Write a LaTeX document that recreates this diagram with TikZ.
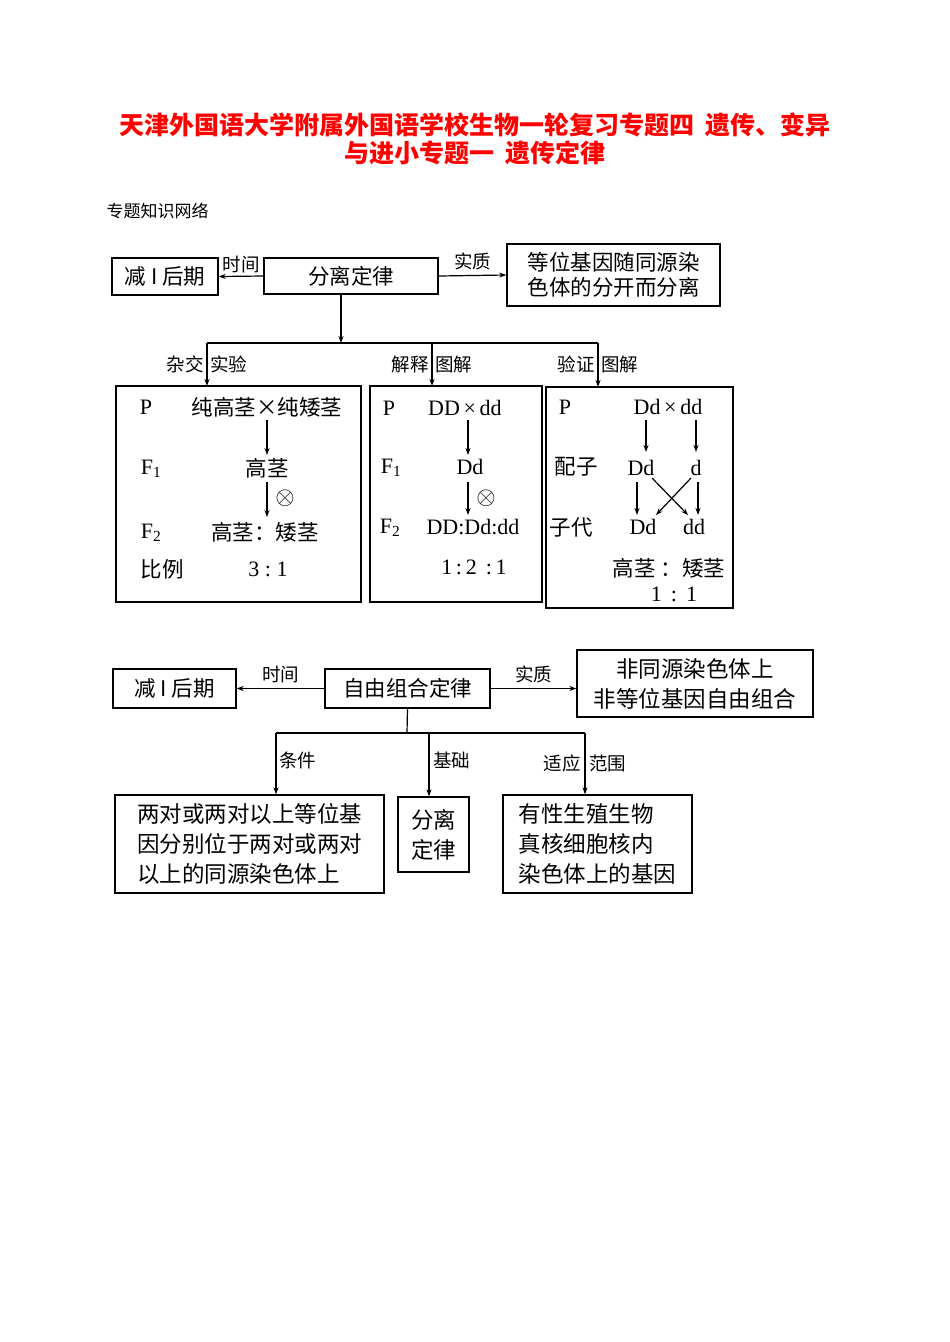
\documentclass[tikz,border=0pt]{standalone}
\usepackage{fontspec}
\usetikzlibrary{arrows.meta}
\setmainfont{Liberation Serif}
\newfontfamily\cjk{Noto Sans CJK SC}
\begin{document}
\begin{tikzpicture}[x=1pt,y=-1pt,
 bx/.style={draw,line width=1.3pt,inner sep=0pt},
 ar/.style={-{Stealth[length=7pt,width=5pt]},line width=1.2pt},
 ln/.style={line width=1.2pt},
 t/.style={font=\fontsize{21.5}{25}\selectfont\cjk,inner sep=0pt},
 tl/.style={font=\fontsize{22}{24}\selectfont,inner sep=0pt},
 lab/.style={font=\fontsize{18.5}{20}\selectfont\cjk,inner sep=0pt},
 ox/.style={font=\fontsize{26}{26}\selectfont,inner sep=0pt},
 b/.style={font=\fontsize{22.5}{30}\selectfont\cjk,inner sep=0pt,align=left}]
\useasboundingbox (0,0) rectangle (950,1342);
\node[font=\fontsize{25}{28}\selectfont\cjk\bfseries,text=red,align=center] (title) at (475,139) {天津外国语大学附属外国语学校生物一轮复习专题四\ \ 遗传、变异\\与进小专题一\ \ 遗传定律};
\node[font=\fontsize{17}{18}\selectfont\cjk,anchor=west] (sub) at (103,211) {专题知识网络};
% top
\node[bx,minimum width=106,minimum height=37,t] (a1) at (165,276.5) {减 I 后期};
\node[bx,minimum width=174,minimum height=36,t] (a2) at (351,276) {分离定律};
\node[bx,minimum width=213,minimum height=62,t,align=center] (a3) at (613.5,275) {等位基因随同源染\\色体的分开而分离};
\draw[ar] (a2.west) -- (a1.east) node[lab,midway,above=3pt] {时间};
\draw[ar] (a2.east) -- (a3.west) node[lab,midway,above=5pt] {实质};
\coordinate (h) at (341,343);
\draw[ar] (a2.south-|h) -- (h);
\coordinate (hl) at (207,343); \coordinate (hr) at (598,343); \coordinate (hm) at (432,343);
\draw[ln] (hl) -- (hr);
\draw[line width=1.3pt] (116,386) rectangle (361,602);
\draw[line width=1.3pt] (370,386) rectangle (542,602);
\draw[line width=1.3pt] (546,387) rectangle (733,608);
\coordinate (b1) at (207,386); \coordinate (b2) at (432,386); \coordinate (b3) at (598,387);
\draw[ar] (hl) -- (b1); \draw[ar] (hm) -- (b2); \draw[ar] (hr) -- (b3);
\node[lab,anchor=east] at (204,364) {杂交}; \node[lab,anchor=west] at (210,364) {实验};
\node[lab,anchor=east] at (429,364) {解释}; \node[lab,anchor=west] at (435,364) {图解};
\node[lab,anchor=east] at (595,364) {验证}; \node[lab,anchor=west] at (601,364) {图解};
% box1
\node[tl] at (146,407) {P};
\node[t] (p1) at (267,407) {纯高茎×纯矮茎};
\node[tl] at (151,469) {F\textsubscript{1}};
\node[t] (f1) at (267,468) {高茎};
\node[tl] at (151,533) {F\textsubscript{2}};
\node[t] (f2) at (265,532) {高茎：矮茎};
\node[t] at (162,569) {比例};
\node[tl] at (268,569) {3\ :\ 1};
\draw[ar] (267,420) -- (267,455);
\draw[ar] (267,482) -- (267,517);
\node[ox] at (285,498) {$\otimes$};
% box2
\node[tl] at (389,408) {P};
\node[tl] (p2) at (465,408) {DD\,×\,dd};
\node[tl] at (391,468) {F\textsubscript{1}};
\node[tl] (g1) at (470,467) {Dd};
\node[tl] at (390,528) {F\textsubscript{2}};
\node[tl] (g2) at (473,527) {DD:Dd:dd};
\node[tl] at (474,567) {1\,:\,2\,\ :\,1};
\draw[ar] (468,420) -- (468,455);
\draw[ar] (468,482) -- (468,515);
\node[ox] at (486,498) {$\otimes$};
% box3
\node[tl] at (565,407) {P};
\node[tl] (p3) at (668,407) {Dd\,×\,dd};
\node[t] at (576,467) {配子};
\node[tl] (m1) at (641,468) {Dd};
\node[tl] (m2) at (696,468) {d};
\node[t] at (571,527) {子代};
\node[tl] (c1) at (643,527) {Dd};
\node[tl] (c2) at (694,527) {dd};
\draw[ar] (646,420) -- (646,452);
\draw[ar] (696,420) -- (696,452);
\draw[ar] (637,482) -- (637,515);
\draw[ar] (698,482) -- (698,515);
\draw[ar] (652,478) -- (688,515);
\draw[ar] (691,478) -- (656,515);
\node[t] at (669,568) {高茎 ：矮茎};
\node[tl] at (674,594) {1\ \,:\ \,1};
% bottom
\node[bx,minimum width=123,minimum height=39,t] (d1) at (174.5,688.5) {减 I 后期};
\node[bx,minimum width=165,minimum height=39,t] (d2) at (407.5,688.5) {自由组合定律};
\node[bx,minimum width=236,minimum height=67,t,align=center,font=\fontsize{22.5}{30}\selectfont\cjk] (d3) at (695,683.5) {非同源染色体上\\非等位基因自由组合};
\draw[ar] (d2.west) -- (d1.east) node[lab,midway,above=5pt] {时间};
\draw[ar] (d2.east) -- (d3.west|-d2.east) node[lab,midway,above=5pt] {实质};
\coordinate (k) at (407,733); \coordinate (kl) at (276,733); \coordinate (km) at (429,733); \coordinate (kr) at (585,733);
\draw[ln] (d2.south) -- (k);
\draw[ln] (kl) -- (kr);
\node[bx,minimum width=269,minimum height=98,b] (e1) at (249.5,844) {两对或两对以上等位基\\因分别位于两对或两对\\以上的同源染色体上};
\node[bx,minimum width=71,minimum height=75,b,align=center] (e2) at (433.5,834.5) {分离\\定律};
\node[bx,minimum width=189,minimum height=98,b] (e3) at (597.5,844) {有性生殖生物\\真核细胞核内\\染色体上的基因};
\draw[ar] (kl) -- (kl|-e1.north);
\draw[ar] (km) -- (km|-e2.north);
\draw[ar] (kr) -- (kr|-e3.north);
\node[lab,anchor=west] at (279,760) {条件};
\node[lab,anchor=west] at (433,760) {基础};
\node[lab,anchor=east] at (581,763) {适应}; \node[lab,anchor=west] at (589,763) {范围};
\end{tikzpicture}
\end{document}
